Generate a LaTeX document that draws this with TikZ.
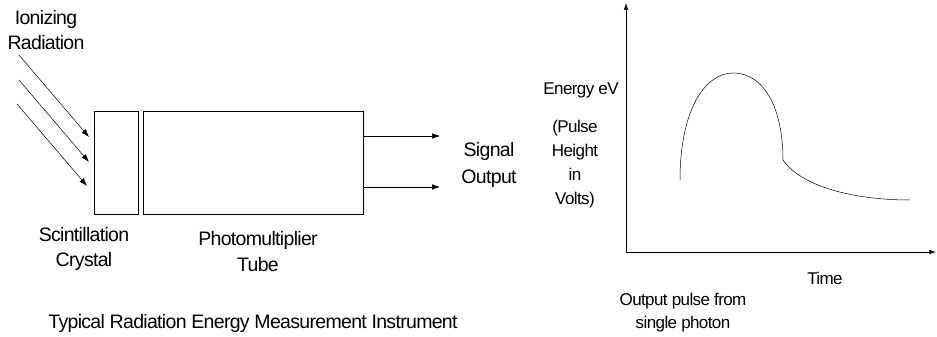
\documentclass[tikz,border=0pt]{standalone}
\usepackage{fontspec}
\setmainfont[LetterSpace=-3.5]{Liberation Sans}
\usetikzlibrary{arrows.meta}
\tikzset{
  lbl/.style={font=\fontsize{19.5}{25}\selectfont, align=center, inner sep=0pt},
  ray/.style={line width=0.5pt, -{Latex[length=8pt,width=5.5pt]}},
  unit/.style={draw, line width=0.6pt, inner sep=0pt, anchor=north west},
}
\begin{document}
\begin{tikzpicture}[x=1pt, y=-1pt]
    \useasboundingbox (0,0) rectangle (937,337);
    % detector
    \node[unit, minimum width=44pt, minimum height=103pt] (crystal) at (94,111) {};
    \node[unit, minimum width=220pt, minimum height=103pt] (pmt) at (143,111) {};
    \coordinate (r1) at (19,55);  \coordinate (h1) at (89,137);
    \coordinate (r2) at (19,80);  \coordinate (h2) at (89,162);
    \coordinate (r3) at (17,104); \coordinate (h3) at (87,186);
    \foreach \i in {1,2,3} \draw[ray] (r\i) -- (h\i);
    \coordinate (o1) at (440,136); \coordinate (o2) at (440,187);
    \draw[ray] (pmt.east |- o1) -- (o1);
    \draw[ray] (pmt.east |- o2) -- (o2);
    \node[lbl] (ionizing) at (46,30) {Ionizing\\Radiation};
    \node[lbl] (scint) at (84,249) {Scintillation\\Crystal};
    \node[lbl, font=\fontsize{19.5}{26}\selectfont] (tube) at (258,252) {Photomultiplier\\Tube};
    \node[lbl, font=\fontsize{19.5}{27}\selectfont] (signal) at (489,165) {Signal\\Output};
    \node[lbl] (caption) at (253,323) {Typical Radiation Energy Measurement Instrument};
    % pulse plot
    \coordinate (origin) at (626,252); \coordinate (ytop) at (626,3); \coordinate (xend) at (936,252);
    \draw[ray, -{Latex[length=7pt,width=4.5pt]}] (origin) -- (ytop);
    \draw[ray, -{Latex[length=7pt,width=4.5pt]}] (origin) -- (xend);
    \draw[line width=0.5pt] (680,180) .. controls (680,110) and (705,73) .. (733,73)
        .. controls (765,73) and (783,110) .. (783,160)
        .. controls (800,185) and (850,200) .. (910,200);
    \node[lbl, font=\fontsize{17}{24}\selectfont] (energy) at (581,90) {Energy eV};
    \node[lbl, font=\fontsize{17}{24}\selectfont] (height) at (575,164) {(Pulse\\Height\\in\\Volts)};
    \node[lbl, font=\fontsize{17}{24}\selectfont] (time) at (825,278) {Time};
    \node[lbl, font=\fontsize{17}{23}\selectfont] (single) at (683,313) {Output pulse from\\single photon};
\end{tikzpicture}
\end{document}
